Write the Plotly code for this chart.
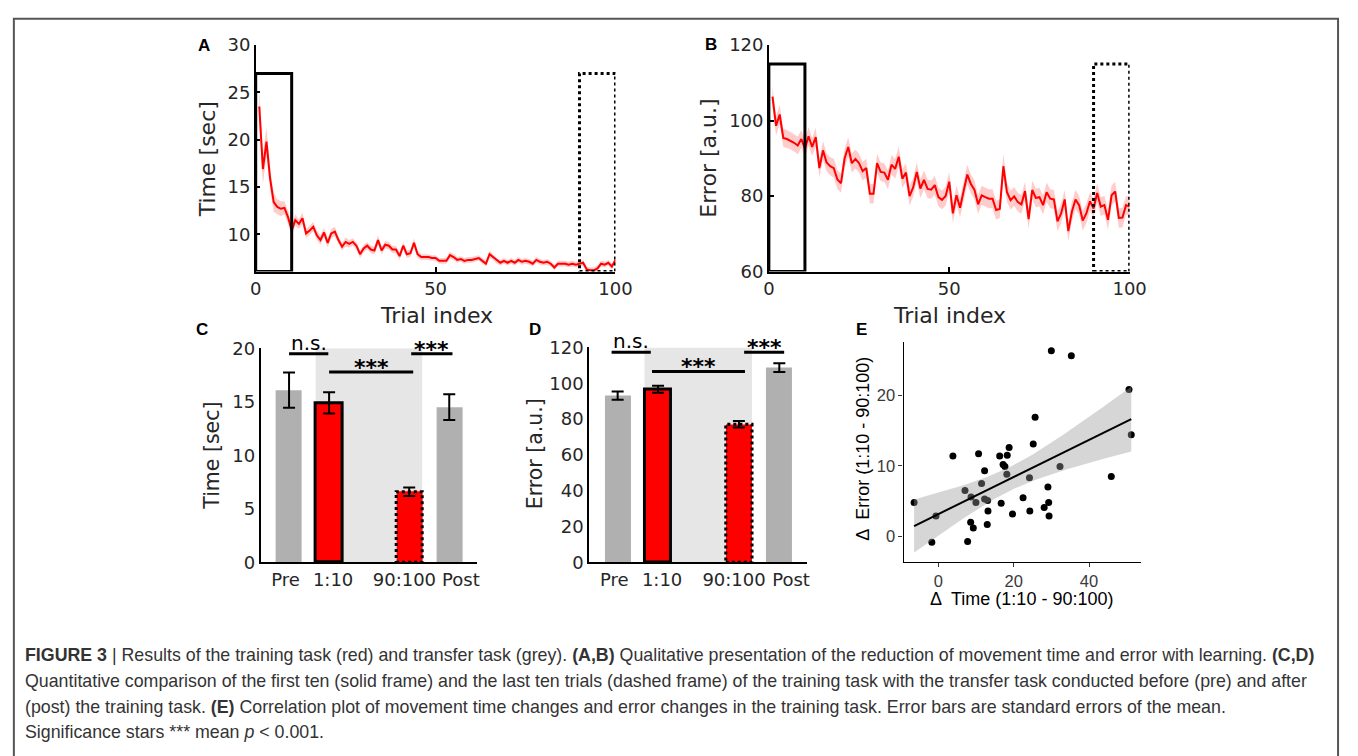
import numpy as np
import plotly.graph_objects as go

W, H = 1358, 756

# ---------------- data ----------------
trials = list(range(1, 101))
time_mean = [
    23.5, 16.9, 19.8, 15.9, 13.4, 12.9, 12.7, 12.8, 11.8, 10.4,
    11.5, 11.1, 11.7, 10.1, 10.4, 10.8, 9.9, 9.4, 10.2, 9.1,
    10.1, 10.3, 9.4, 8.7, 9.2, 9.0, 9.2, 8.8, 7.9, 8.5,
    8.8, 8.4, 8.3, 9.4, 8.3, 8.9, 8.8, 8.4, 8.4, 7.7,
    8.8, 7.9, 8.0, 9.1, 7.9, 7.6, 7.6, 7.6, 7.5, 7.5,
    7.2, 7.2, 7.2, 7.8, 7.6, 7.3, 7.4, 7.2, 7.3, 7.3,
    7.4, 7.5, 7.2, 6.9, 7.9, 7.6, 7.2, 7.0, 7.2, 7.0,
    7.2, 7.0, 7.3, 7.1, 7.2, 7.1, 6.9, 7.3, 7.1, 7.0,
    7.1, 6.9, 6.5, 6.9, 6.9, 6.9, 6.8, 6.9, 6.8, 6.9,
    7.0, 6.3, 6.2, 6.2, 6.4, 6.9, 6.8, 7.0, 6.6, 7.3]
time_se = [
    1.9, 1.6, 1.5, 1.2, 1.0, 0.8, 0.8, 0.7, 0.7, 0.6,
    0.6, 0.5, 0.6, 0.5, 0.5, 0.5, 0.5, 0.5, 0.5, 0.5,
    0.5, 0.5, 0.4, 0.4, 0.5, 0.4, 0.4, 0.4, 0.4, 0.4,
    0.4, 0.4, 0.4, 0.5, 0.4, 0.4, 0.4, 0.4, 0.4, 0.4,
    0.4, 0.4, 0.4, 0.5, 0.4, 0.3, 0.3, 0.3, 0.3, 0.3,
    0.3, 0.3, 0.3, 0.4, 0.3, 0.3, 0.3, 0.3, 0.3, 0.3,
    0.3, 0.3, 0.3, 0.3, 0.4, 0.3, 0.3, 0.3, 0.3, 0.3,
    0.3, 0.3, 0.3, 0.3, 0.3, 0.3, 0.3, 0.3, 0.3, 0.3,
    0.3, 0.3, 0.3, 0.3, 0.3, 0.3, 0.3, 0.3, 0.3, 0.3,
    0.3, 0.3, 0.3, 0.3, 0.3, 0.3, 0.3, 0.3, 0.3, 0.3]
error_mean = [
    106.3, 98.6, 101.6, 95.4, 95.1, 94.7, 94.1, 93.4, 95.1, 92.6,
    95.8, 93.0, 95.6, 87.4, 92.1, 88.9, 87.9, 87.4, 84.4, 83.4,
    90.0, 93.0, 88.7, 89.8, 88.7, 86.6, 87.4, 80.6, 80.6, 88.7,
    86.4, 86.2, 84.3, 88.3, 87.2, 90.4, 84.6, 86.2, 80.0, 82.3,
    86.4, 82.0, 84.3, 81.9, 81.7, 82.9, 79.7, 79.0, 80.0, 83.8,
    75.4, 80.2, 76.9, 81.4, 85.7, 83.2, 81.6, 77.8, 80.2, 79.7,
    79.3, 79.3, 76.3, 76.6, 87.9, 81.0, 78.9, 79.9, 78.4, 77.8,
    81.3, 73.9, 81.6, 79.5, 79.7, 77.6, 81.0, 79.3, 79.1, 73.3,
    75.4, 79.1, 70.7, 75.9, 79.1, 77.6, 73.5, 75.4, 78.6, 76.7,
    80.8, 77.2, 77.6, 73.7, 80.2, 81.2, 74.2, 74.3, 77.6, 77.2]
error_se = [
    2.8, 2.6, 2.5, 2.4, 2.4, 2.3, 2.3, 2.3, 2.4, 2.4,
    2.5, 2.4, 2.5, 2.5, 2.5, 2.4, 2.4, 2.5, 2.5, 2.5,
    2.6, 2.6, 2.5, 2.5, 2.5, 2.5, 2.5, 2.6, 2.6, 2.6,
    2.5, 2.5, 2.5, 2.6, 2.6, 2.7, 2.5, 2.5, 2.6, 2.5,
    2.5, 2.5, 2.5, 2.5, 2.4, 2.5, 2.5, 2.5, 2.5, 2.6,
    2.6, 2.5, 2.5, 2.5, 2.6, 2.5, 2.5, 2.5, 2.5, 2.5,
    2.5, 2.5, 2.5, 2.5, 3.3, 2.6, 2.5, 2.5, 2.5, 2.5,
    2.5, 2.6, 2.5, 2.5, 2.5, 2.5, 2.6, 2.5, 2.5, 2.6,
    2.6, 2.5, 2.7, 2.6, 2.5, 2.5, 2.6, 2.6, 2.5, 2.5,
    2.6, 2.5, 2.5, 2.6, 2.6, 2.6, 2.6, 2.6, 2.5, 2.5]

conditions = ["Pre", "1:10", "90:100", "Post"]
time_bar = [16.1, 14.9, 6.6, 14.5]
time_bar_se = [1.65, 1.0, 0.4, 1.2]
error_bar = [93.0, 96.6, 77.1, 108.7]
error_bar_se = [2.3, 2.0, 1.8, 2.5]

d_time = [-6.4, -0.6, -1.7, 3.9, 7.1, 8.7, 7.8, 8.6, 9.3, 10.0,
          10.7, 11.5, 12.3, 12.3, 13.1, 13.2, 13.0, 16.3, 16.7, 17.2,
          17.7, 18.3, 18.2, 18.8, 19.7, 22.5, 24.2, 24.3, 25.2, 25.7,
          28.1, 29.1, 29.3, 29.4, 30.0, 32.3, 35.3, 45.9, 50.6, 51.2]
d_error = [4.8, 2.9, -0.8, 11.4, 6.5, 5.6, -0.7, 2.0, 1.2, 4.8,
           11.7, 7.5, 9.3, 5.3, 5.1, 3.6, 1.7, 11.4, 4.7, 10.2,
           9.9, 11.5, 8.8, 12.6, 3.2, 5.5, 8.3, 3.6, 13.1, 16.9,
           4.1, 7.0, 4.8, 2.9, 26.3, 9.9, 25.6, 8.5, 20.8, 14.4]

# ---------------- layout helpers ----------------
def xdom(p0, p1):
    return [p0 / W, p1 / W]

def ydom(top, bot):
    return [1 - bot / H, 1 - top / H]

def px(x):
    return x / W

def py(y):
    return 1 - y / H

MAT_FONT = "DejaVu Sans"
TICK_COL = "#262626"
RED = "#ff0000"
BAND = "rgba(255,0,0,0.2)"
GREY_BAR = "#b0b0b0"
SHADE = "#e6e6e6"

fig = go.Figure()

# ---- Panel A ----
t_lo = [m - s for m, s in zip(time_mean, time_se)]
t_hi = [m + s for m, s in zip(time_mean, time_se)]
fig.add_trace(go.Scatter(x=trials, y=t_hi, mode="lines", line=dict(width=0), showlegend=False,
                         hoverinfo="skip", xaxis="x", yaxis="y"))
fig.add_trace(go.Scatter(x=trials, y=t_lo, mode="lines", line=dict(width=0), fill="tonexty",
                         fillcolor=BAND, showlegend=False, hoverinfo="skip", xaxis="x", yaxis="y"))
fig.add_trace(go.Scatter(x=trials, y=time_mean, mode="lines", line=dict(color=RED, width=2),
                         showlegend=False, xaxis="x", yaxis="y"))

# ---- Panel B ----
e_lo = [m - s for m, s in zip(error_mean, error_se)]
e_hi = [m + s for m, s in zip(error_mean, error_se)]
fig.add_trace(go.Scatter(x=trials, y=e_hi, mode="lines", line=dict(width=0), showlegend=False,
                         hoverinfo="skip", xaxis="x2", yaxis="y2"))
fig.add_trace(go.Scatter(x=trials, y=e_lo, mode="lines", line=dict(width=0), fill="tonexty",
                         fillcolor=BAND, showlegend=False, hoverinfo="skip", xaxis="x2", yaxis="y2"))
fig.add_trace(go.Scatter(x=trials, y=error_mean, mode="lines", line=dict(color=RED, width=2),
                         showlegend=False, xaxis="x2", yaxis="y2"))

# ---- Panels C, D (bars) ----
bar_pos = [1, 2, 4, 5]
bar_w = 0.65
bar_colors = [GREY_BAR, RED, RED, GREY_BAR]
bar_line_w = [0, 3, 0, 0]
for vals, ses, xa, ya in [(time_bar, time_bar_se, "x3", "y3"), (error_bar, error_bar_se, "x4", "y4")]:
    fig.add_trace(go.Bar(x=bar_pos, y=vals, width=bar_w,
                         marker=dict(color=bar_colors, line=dict(color="black", width=bar_line_w)),
                         error_y=dict(type="data", array=ses, color="black", thickness=2, width=6),
                         showlegend=False, xaxis=xa, yaxis=ya))

# ---- Panel E (scatter + regression) ----
xs = np.array(d_time)
ys = np.array(d_error)
n = len(xs)
slope, intercept = np.polyfit(xs, ys, 1)
xfit = np.linspace(xs.min(), xs.max(), 80)
yfit = intercept + slope * xfit
resid = ys - (intercept + slope * xs)
s = np.sqrt(np.sum(resid ** 2) / (n - 2))
sxx = np.sum((xs - xs.mean()) ** 2)
t_crit = 2.024
half = t_crit * s * np.sqrt(1 / n + (xfit - xs.mean()) ** 2 / sxx)

fig.add_trace(go.Scatter(x=d_time, y=d_error, mode="markers",
                         marker=dict(color="black", size=7), showlegend=False, xaxis="x5", yaxis="y5"))
fig.add_trace(go.Scatter(x=xfit, y=yfit + half, mode="lines", line=dict(width=0), showlegend=False,
                         hoverinfo="skip", xaxis="x5", yaxis="y5"))
fig.add_trace(go.Scatter(x=xfit, y=yfit - half, mode="lines", line=dict(width=0), fill="tonexty",
                         fillcolor="rgba(153,153,153,0.4)", showlegend=False, hoverinfo="skip",
                         xaxis="x5", yaxis="y5"))
fig.add_trace(go.Scatter(x=xfit, y=yfit, mode="lines", line=dict(color="black", width=2),
                         showlegend=False, xaxis="x5", yaxis="y5"))

# ---------------- axes ----------------
def mat_axis(**kw):
    d = dict(showline=True, linecolor="black", linewidth=1.5, showgrid=False, zeroline=False,
             tickfont=dict(family=MAT_FONT, size=18, color=TICK_COL), ticks="inside", ticklen=5,
             tickcolor="black", tickwidth=1.5, fixedrange=True)
    d.update(kw)
    return d

def gg_axis(**kw):
    d = dict(showline=True, linecolor="black", linewidth=1.2, showgrid=False, zeroline=False,
             ticks="outside", ticklen=4, tickcolor="#333333", tickwidth=1.2,
             tickfont=dict(family="Liberation Sans", size=16.5, color="#3a3a3a"), fixedrange=True)
    d.update(kw)
    return d

A_YMIN = 6.07
fig.update_layout(
    xaxis=mat_axis(domain=xdom(254, 620), range=[0, 100], tickvals=[0, 50, 100], anchor="y"),
    yaxis=mat_axis(domain=ydom(35, 268), range=[A_YMIN, 30], tickvals=[10, 15, 20, 25, 30], anchor="x"),
    xaxis2=mat_axis(domain=xdom(776, 1143), range=[0, 100], tickvals=[0, 50, 100], anchor="y2"),
    yaxis2=mat_axis(domain=ydom(35, 268), range=[60, 120], tickvals=[60, 80, 100, 120], anchor="x2"),
    xaxis3=mat_axis(domain=xdom(259, 479), range=[0.29, 5.69], tickvals=[0.915, 2.1, 3.88, 5.29],
                    ticktext=conditions, ticks="", anchor="y3"),
    yaxis3=mat_axis(domain=ydom(347, 567), range=[0, 20], tickvals=[0, 5, 10, 15, 20], ticks="", anchor="x3"),
    xaxis4=mat_axis(domain=xdom(593, 815), range=[0.29, 5.69], tickvals=[0.915, 2.1, 3.88, 5.29],
                    ticktext=conditions, ticks="", anchor="y4"),
    yaxis4=mat_axis(domain=ydom(346, 567), range=[0, 120], tickvals=[0, 20, 40, 60, 80, 100, 120],
                    ticks="", anchor="x4"),
    xaxis5=gg_axis(domain=xdom(913, 1155), range=[-9.2, 53.9], tickvals=[0, 20, 40], anchor="y5"),
    yaxis5=gg_axis(domain=ydom(340, 567), range=[-3.65, 27.6], tickvals=[0, 10, 20], anchor="x5"),
)

# ---------------- shapes ----------------
shapes = []
# frame around whole figure
shapes.append(dict(type="rect", xref="paper", yref="paper", x0=px(8), x1=px(1355), y0=-0.05, y1=py(8),
                   line=dict(color="#555555", width=2)))
# trial windows in A and B
for xa, ya, ymin, ytop in [("x", "y", A_YMIN, 27), ("x2", "y2", 60, 115)]:
    shapes.append(dict(type="rect", xref=xa, yref=ya, x0=0, x1=10, y0=ymin, y1=ytop,
                       line=dict(color="black", width=3), layer="above"))
    shapes.append(dict(type="rect", xref=xa, yref=ya, x0=90, x1=100, y0=ymin, y1=ytop,
                       line=dict(color="black", width=3, dash="dot"), layer="above"))
# training shading + dotted border of last-ten bar
for xa, ya, vals, top in [("x3", "y3", time_bar, 20), ("x4", "y4", error_bar, 120)]:
    shapes.append(dict(type="rect", xref=xa, yref=ya, x0=bar_pos[1] - bar_w / 2 - 0.01,
                       x1=bar_pos[2] + bar_w / 2 + 0.0, y0=0, y1=top,
                       fillcolor=SHADE, line=dict(width=0), layer="below"))
    shapes.append(dict(type="rect", xref=xa, yref=ya, x0=bar_pos[2] - bar_w / 2,
                       x1=bar_pos[2] + bar_w / 2, y0=0, y1=vals[2],
                       line=dict(color="black", width=3, dash="dot"), layer="above"))

# significance brackets: (xaxis, yaxis, x0, x1, y, label)
sig = [("x3", "y3", 1.0, 1.98, 19.5, "n.s."), ("x3", "y3", 2.0, 4.1, 17.8, "***"),
       ("x3", "y3", 4.05, 5.08, 19.5, "***"),
       ("x4", "y4", 0.85, 1.82, 117.3, "n.s."), ("x4", "y4", 1.85, 4.15, 106.6, "***"),
       ("x4", "y4", 4.13, 5.12, 117.3, "***")]
annotations = []
for xa, ya, x0, x1, yv, lab in sig:
    shapes.append(dict(type="line", xref=xa, yref=ya, x0=x0, x1=x1, y0=yv, y1=yv,
                       line=dict(color="black", width=3)))
    if lab == "n.s.":
        annotations.append(dict(xref=xa, yref=ya, x=(x0 + x1) / 2, y=yv, text=lab, showarrow=False,
                                yanchor="bottom", yshift=-3,
                                font=dict(family=MAT_FONT, size=20, color="black")))
    else:
        annotations.append(dict(xref=xa, yref=ya, x=(x0 + x1) / 2, y=yv, text="<b>" + lab + "</b>",
                                showarrow=False, yanchor="bottom", yshift=-10,
                                font=dict(family=MAT_FONT, size=22, color="black")))

# axis titles
def title(x, y, text, size, rot=0, family=MAT_FONT, color=TICK_COL):
    annotations.append(dict(xref="paper", yref="paper", x=px(x), y=py(y), text=text, showarrow=False,
                            textangle=rot, xanchor="center", yanchor="middle",
                            font=dict(family=family, size=size, color=color)))

title(205, 153, "Time [sec]", 22, -90)
title(438, 313, "Trial index", 22)
title(715, 151, "Error [a.u.]", 22, -90)
title(960, 313, "Trial index", 22)
title(210, 457, "Time [sec]", 20.5, -90)
title(538, 455, "Error [a.u.]", 20.5, -90)
title(871, 450, "\u0394  Error (1:10 - 90:100)", 18, -90, "Liberation Sans", "black")
title(1033, 605, "\u0394  Time (1:10 - 90:100)", 18, 0, "Liberation Sans", "black")

# panel letters
for lab, x, y in [("A", 201, 35), ("B", 717, 34), ("C", 199, 328), ("D", 538, 328), ("E", 870, 328)]:
    annotations.append(dict(xref="paper", yref="paper", x=px(x), y=py(y), text="<b>" + lab + "</b>",
                            showarrow=False, xanchor="center", yanchor="middle",
                            font=dict(family="Liberation Sans", size=17, color="black")))

# caption
caption = [
    "<b>FIGURE 3</b> | Results of the training task (red) and transfer task (grey). <b>(A,B)</b> Qualitative "
    "presentation of the reduction of movement time and error with learning. <b>(C,D)</b>",
    "Quantitative comparison of the first ten (solid frame) and the last ten trials (dashed frame) of the "
    "training task with the transfer task conducted before (pre) and after",
    "(post) the training task. <b>(E)</b> Correlation plot of movement time changes and error changes in the "
    "training task. Error bars are standard errors of the mean.",
    "Significance stars *** mean <i>p</i> &lt; 0.001.",
]
for i, line in enumerate(caption):
    annotations.append(dict(xref="paper", yref="paper", x=px(17), y=py(662 + 26.7 * i), text=line,
                            showarrow=False, xanchor="left", yanchor="middle", align="left",
                            font=dict(family="Liberation Sans", size=17.8, color="#333333")))

fig.update_layout(shapes=shapes, annotations=annotations, width=W, height=H,
                  margin=dict(l=0, r=0, t=0, b=0), paper_bgcolor="white", plot_bgcolor="rgba(0,0,0,0)",
                  showlegend=False, bargap=0)

fig.write_html("out.html", config={"displayModeBar": False},
               post_script="document.body.style.margin='0px';")
